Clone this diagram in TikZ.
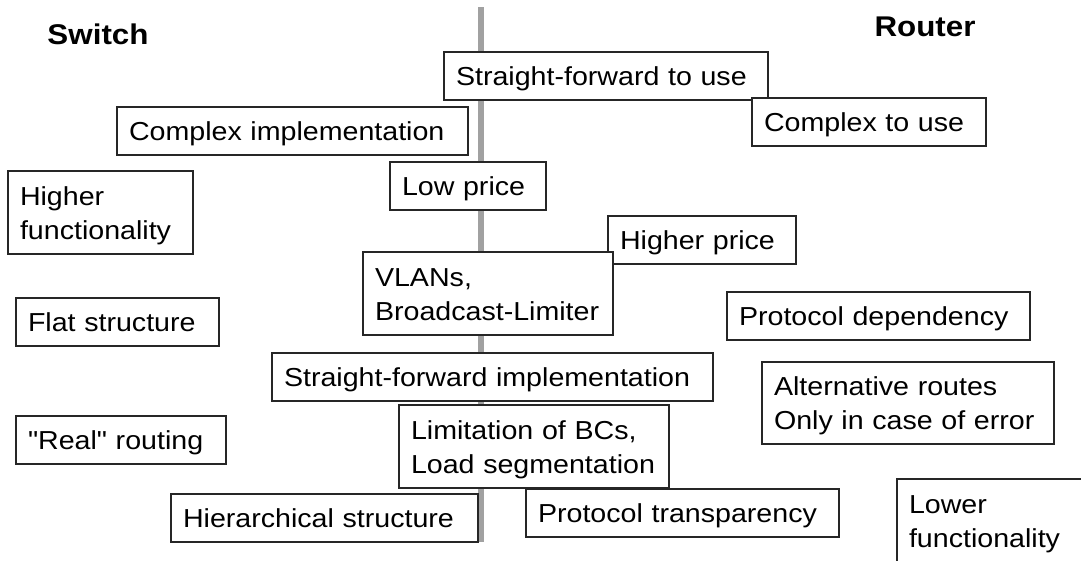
\documentclass[tikz,border=0pt]{standalone}
\usepackage{fontspec}
\setmainfont{Liberation Sans}[FakeStretch=1.1, Ligatures=TeXOff]
\begin{document}
\begin{tikzpicture}[x=1pt,y=-1pt,
  boxline/.style={draw=black!85, line width=1.4pt},
  bx/.style={boxline, fill=white, anchor=north west, outer sep=0pt,
    inner xsep=12pt, inner ysep=0pt, align=left,
    font=\fontsize{26}{34}\selectfont,
    execute at begin node=\rule{0pt}{26pt},
    execute at end node=\rule[-7pt]{0pt}{7pt}},
  one/.style={minimum height=48pt},
  two/.style={minimum height=83pt},
  title/.style={anchor=base, inner sep=0pt, font=\fontsize{28.5}{34}\selectfont\bfseries},
  divider/.style={draw=black!37, line width=6.5pt}
]
\useasboundingbox (0,0) rectangle (1081,560);
\clip (0,0) rectangle (1081,560);

% headings
\node[title] (sw) at (98,44) {Switch};
\node[title] (rt) at (925,36) {Router};

% dividing bar between the two columns
\coordinate (bartop) at (481,7);
\coordinate (barbot) at (481,542);
\draw[divider] (bartop) -- (barbot);

% feature boxes
\node[bx,one,text width=300pt] (sfuse)  at (444,52)  {\mbox{Straight-forward to use}};
\node[bx,one,text width=210pt] (cuse)   at (752,98)  {\mbox{Complex to use}};
\node[bx,one,text width=327pt] (cimpl)  at (117,107) {\mbox{Complex implementation}};
\node[bx,two,text width=161pt] (hfn)    at (8,171)   {\mbox{Higher}\\\mbox{functionality}};
\node[bx,one,text width=132pt] (lowp)   at (390,162) {\mbox{Low price}};
\node[bx,one,text width=164pt] (hprice) at (608,216) {\mbox{Higher price}};
\node[bx,two,text width=226pt] (vlan)   at (363,252) {\mbox{VLANs,}\\\mbox{Broadcast-Limiter}};
\node[bx,one,text width=179pt] (flat)   at (16,298)  {\mbox{Flat structure}};
\node[bx,one,text width=279pt] (pdep)   at (727,292) {\mbox{Protocol dependency}};
\node[bx,one,text width=417pt] (sfimpl) at (272,353) {\mbox{Straight-forward implementation}};
\node[bx,two,text width=268pt,minimum height=82pt] (altr) at (762,362) {\mbox{Alternative routes}\\\mbox{Only in case of error}};
\node[bx,one,text width=186pt] (real)   at (16,416)  {\mbox{"Real" routing}};
\node[bx,two,text width=246pt] (limit)  at (399,405) {\mbox{Limitation of BCs,}\\\mbox{Load segmentation}};
\node[bx,one,text width=283pt] (hier)   at (171,494) {\mbox{Hierarchical structure}};
\node[bx,one,text width=289pt] (ptrans) at (526,489) {\mbox{Protocol transparency}};

% box running off the lower right edge
\node[bx,two,draw=none,fill=none,text width=168pt] (lowfn) at (897,479) {\mbox{Lower}\\\mbox{functionality}};
\draw[boxline] ([xshift=250pt]lowfn.north west) -- (lowfn.north west) -- ([yshift=-120pt]lowfn.north west);
\end{tikzpicture}
\end{document}
